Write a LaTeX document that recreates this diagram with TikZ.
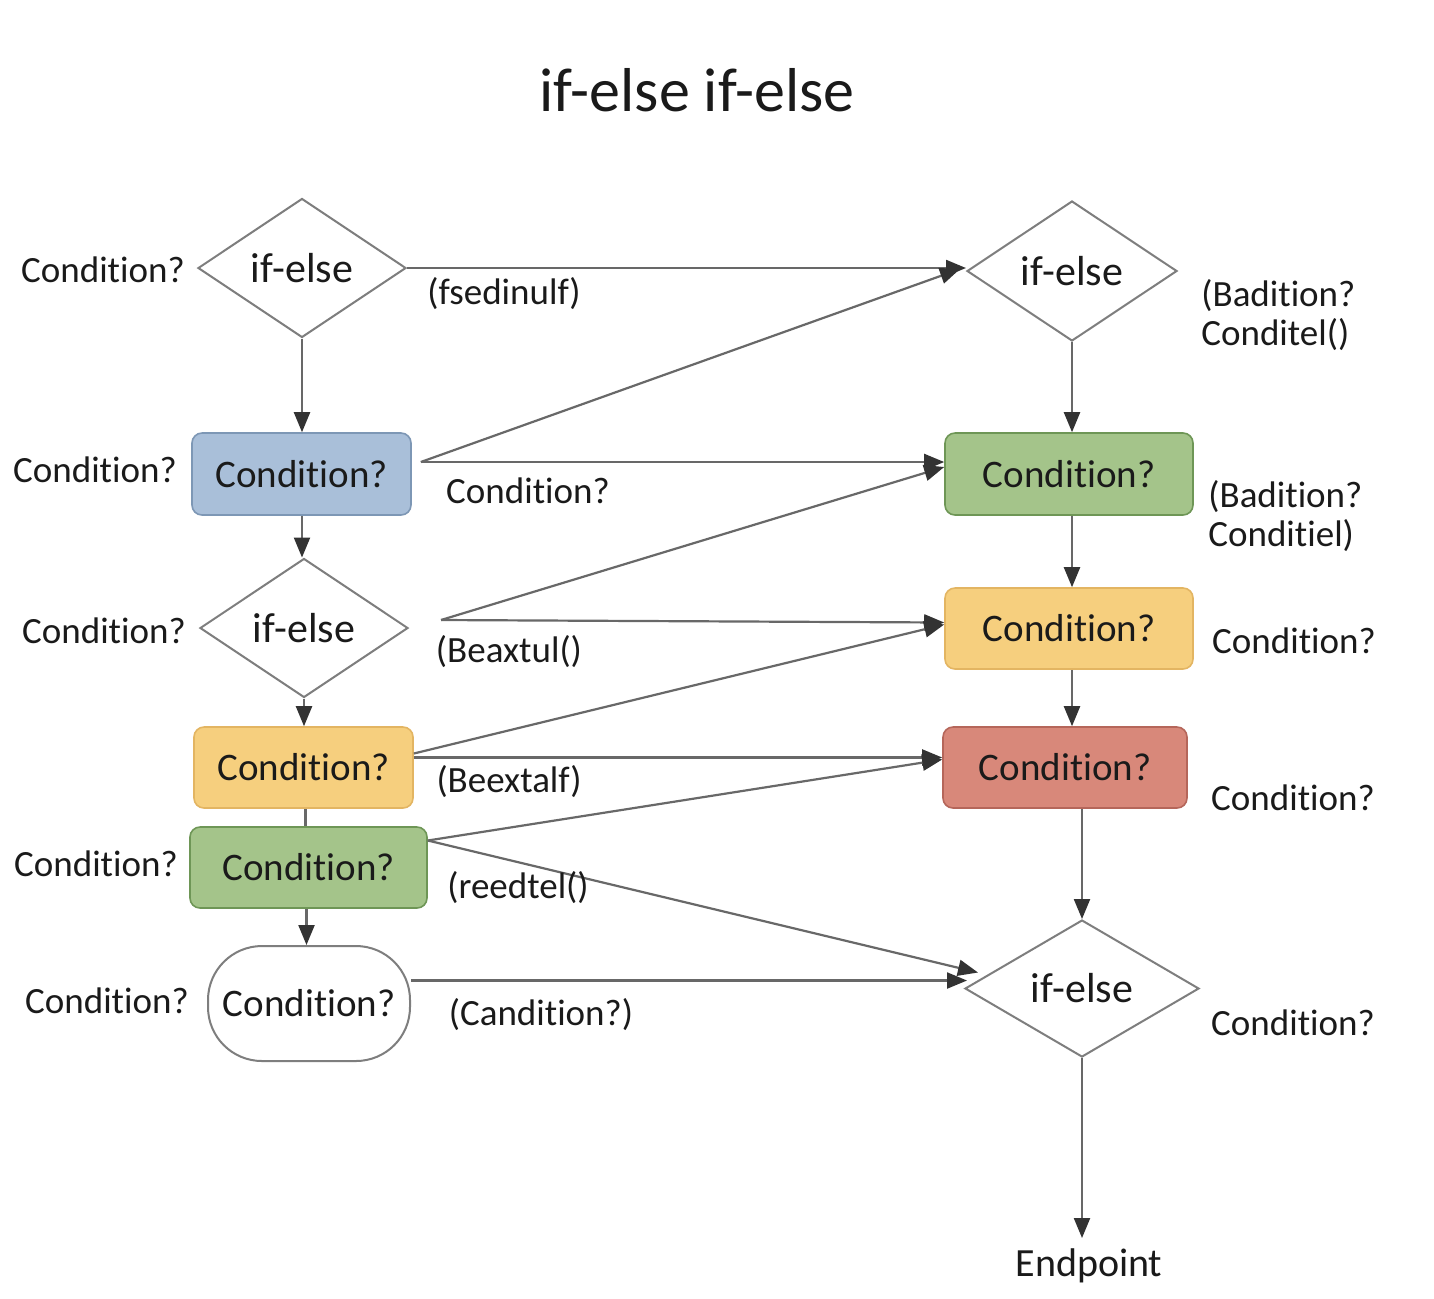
\documentclass[tikz,border=0pt]{standalone}
\usepackage{fontspec}
\setmainfont{Carlito}[Ligatures=NoCommon]
\usetikzlibrary{shapes.geometric,arrows.meta}
\newcommand\Cnd{Condit\kern0pt ion?}
\definecolor{txt}{HTML}{1A1A1A}
\definecolor{ln}{HTML}{686868}
\definecolor{tip}{HTML}{333333}
\definecolor{bluef}{HTML}{A9BFD9}
\definecolor{blued}{HTML}{7D97B5}
\definecolor{greenf}{HTML}{A4C48A}
\definecolor{greend}{HTML}{6E9656}
\definecolor{yelf}{HTML}{F6CF7E}
\definecolor{yeld}{HTML}{E3B562}
\definecolor{redf}{HTML}{D8887A}
\definecolor{redd}{HTML}{B5665A}
\definecolor{diad}{HTML}{7E7E7E}
\begin{document}
\begin{tikzpicture}[x=0.5pt,y=-0.5pt,
  lbl/.style={font=\fontsize{18.5}{19.5}\selectfont, text=txt, inner sep=0pt},
  dia/.style={diamond, draw=diad, line width=1pt, fill=white, inner sep=0pt,
    minimum width=104pt, minimum height=69.5pt, text=txt,
    font=\fontsize{21}{24}\selectfont},
  cbox/.style={rectangle, rounded corners=5pt, line width=0.8pt, inner sep=0pt,
    minimum height=41pt, text=txt, font=\fontsize{19.5}{22}\selectfont},
  arr/.style={draw=ln, line width=1.1pt, -{Triangle[length=10pt,width=8pt,fill=tip,color=tip]}},
  plain/.style={draw=ln, line width=1.1pt}
]
\useasboundingbox[fill=white] (0,0) rectangle (1434,1298);

% title
\node[text=txt, font=\fontsize{31}{36}\selectfont, inner sep=0pt] (title) at (697,90) {if-else if-else};

% left column
\node[dia] (D1) at (302,268) {if-else};
\node[cbox, fill=bluef, draw=blued, minimum width=109.5pt] (B1) at (301.5,474) {\Cnd};
\node[dia] (D2) at (304,628) {if-else};
\node[cbox, fill=yelf, draw=yeld, minimum width=109.5pt, minimum height=40.5pt] (B2) at (303.5,767.5) {\Cnd};
\node[cbox, fill=greenf, draw=greend, minimum width=118.5pt, minimum height=40.5pt] (B3) at (308.5,867.5) {\Cnd};
\node[rectangle, rounded corners=27pt, draw=diad, line width=1pt, fill=white, inner sep=0pt,
  minimum width=101pt, minimum height=57.5pt, text=txt, font=\fontsize{19.5}{22}\selectfont]
  (E1) at (309,1003.5) {\Cnd};

% right column
\node[dia, minimum width=105pt, minimum height=70pt] (D3) at (1072,271) {if-else};
\node[cbox, fill=greenf, draw=greend, minimum width=124pt] (G1) at (1069,474) {\Cnd};
\node[cbox, fill=yelf, draw=yeld, minimum width=124pt, minimum height=40.5pt] (Y1) at (1069,628.5) {\Cnd};
\node[cbox, fill=redf, draw=redd, minimum width=122pt, minimum height=40.5pt] (R1) at (1065,767.5) {\Cnd};
\node[dia, minimum width=117pt, minimum height=68.5pt] (D4) at (1082,988.5) {if-else};
\node[text=txt, font=\fontsize{20}{24}\selectfont, inner sep=0pt] (EP) at (1089,1266) {Endpoint};

% vertical connectors
\draw[arr] (D1.south) -- (B1.north -| D1.south);
\draw[arr] (B1.south -| D1.south) -- (D2.north -| D1.south);
\draw[arr] (D2.south) -- (B2.north -| D2.south);
\draw[plain] ([xshift=1pt]B2.south) -- ([xshift=1pt]B2.south |- B3.north);
\draw[arr] ([xshift=-1pt]B3.south) -- ([xshift=-1pt]B3.south |- E1.north);
\draw[arr] (D3.south) -- (D3.south |- G1.north);
\draw[arr] (D3.south |- G1.south) -- (D3.south |- Y1.north);
\draw[arr] (D3.south |- Y1.south) -- (D3.south |- R1.north);
\draw[arr] (D4.north |- R1.south) -- (D4.north);
\coordinate (endtip) at (1082,1238);
\draw[arr] (D4.south) -- (endtip);

% cross connectors
\draw[arr] (D1.east) -- (D1.east -| D3.west);
\draw[arr] ([shift={(9,-12)}]B1.east) -- ([shift={(-6,-2)}]D3.west);
\draw[arr] ([shift={(9,-12)}]B1.east) -- ([shift={(0,-12)}]G1.west);
\draw[arr] ([shift={(32,-8)}]D2.east) -- ([shift={(0,-7)}]G1.west);
\draw[arr] ([shift={(32,-8)}]D2.east) -- ([shift={(0,-6)}]Y1.west);
\draw[arr] ([shift={(0,-14)}]B2.east) -- ([shift={(0,-4)}]Y1.west);
\draw[arr] ([shift={(0,-10)}]B2.east) -- ([shift={(0,-10)}]R1.west);
\draw[arr] ([shift={(0,-27)}]B3.east) -- ([shift={(0,-8)}]R1.west);
\draw[arr] ([shift={(0,-27)}]B3.east) -- ([shift={(14,-16)}]D4.west);
\draw[arr] ([shift={(0,-23)}]E1.east) -- ([shift={(3,-8)}]D4.west);

% labels
\node[lbl] (l1) at (103,270) {\Cnd};
\node[lbl] (l2) at (504,294) {(fsedinulf)};
\node[lbl, align=left, anchor=west] (l3) at (1201,315) {(Badit\kern0pt ion?\\Conditel()};
\node[lbl] (l4) at (95,470) {\Cnd};
\node[lbl] (l5) at (528,491) {\Cnd};
\node[lbl, align=left, anchor=west] (l6) at (1208,516) {(Badit\kern0pt ion?\\Condit\kern0pt iel)};
\node[lbl] (l7) at (104,631) {\Cnd};
\node[lbl] (l8) at (509,652) {(Beaxtul()};
\node[lbl] (l9) at (1294,641) {\Cnd};
\node[lbl] (l10) at (509,782) {(Beextalf)};
\node[lbl] (l11) at (1293,798) {\Cnd};
\node[lbl] (l12) at (96,864) {\Cnd};
\node[lbl] (l13) at (518,888) {(reedtel()};
\node[lbl] (l14) at (107,1001) {\Cnd};
\node[lbl] (l15) at (541,1015) {(Candit\kern0pt ion?)};
\node[lbl] (l16) at (1293,1023) {\Cnd};
\end{tikzpicture}
\end{document}
